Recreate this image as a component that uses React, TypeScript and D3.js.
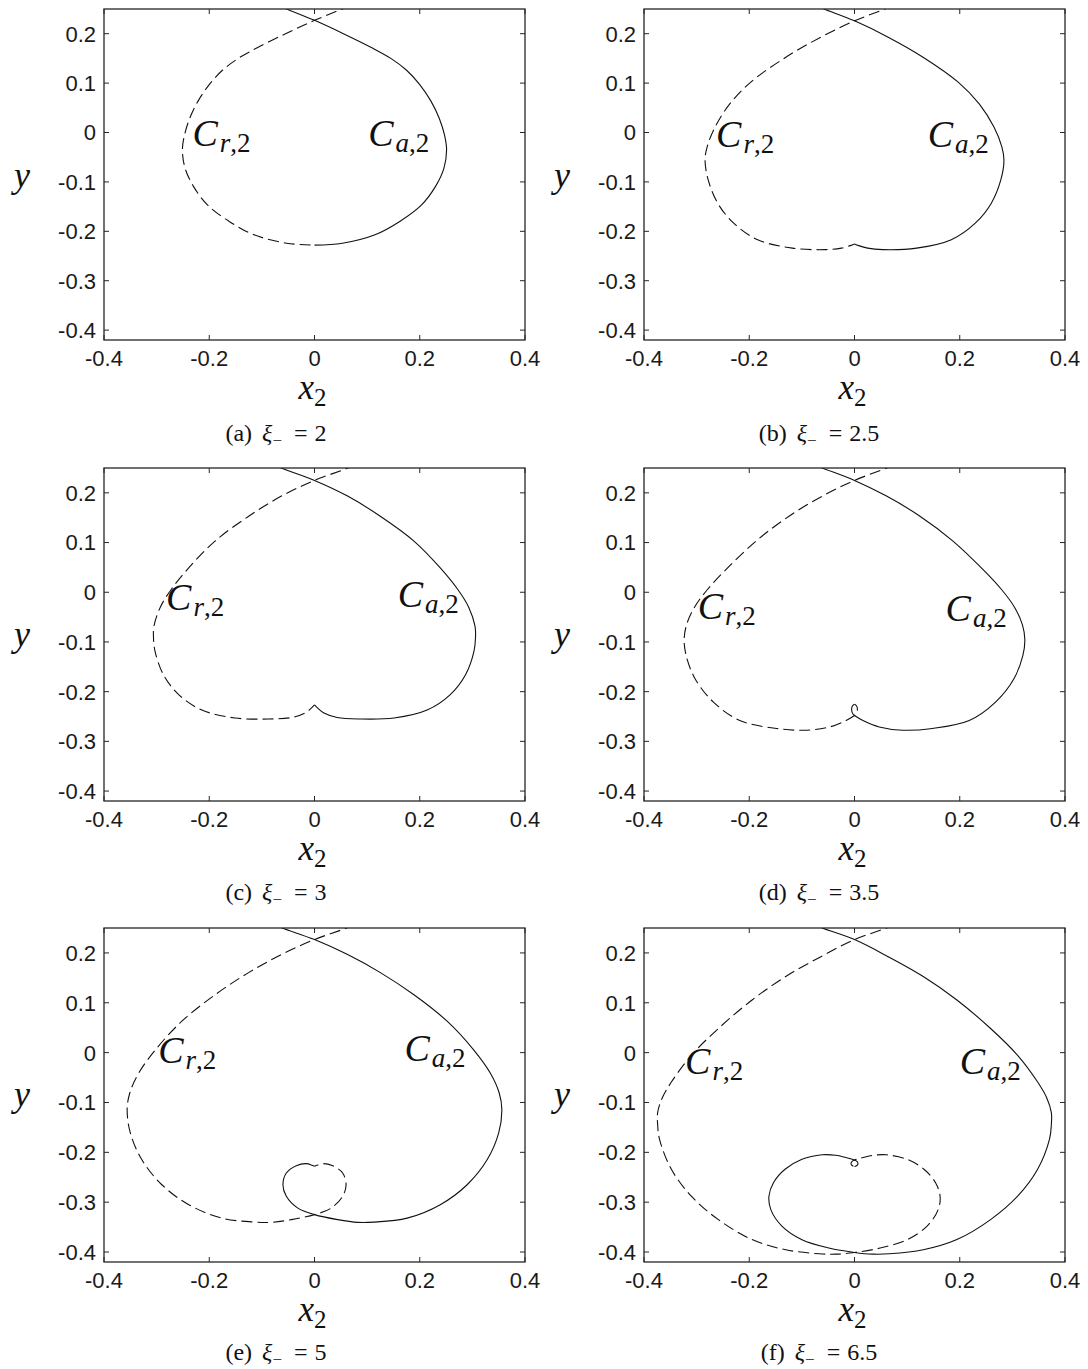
import React from "react";
import * as d3 from "d3";

// Axis settings shared by all six panels
const xTicks = [-0.4, -0.2, 0, 0.2, 0.4];
const yTicks = [0.2, 0.1, 0, -0.1, -0.2, -0.3, -0.4];
const xDomain = [-0.4, 0.4];
const yDomain = [-0.42, 0.25];

const panelTags = ["a", "b", "c", "d", "e", "f"];
const xiValues = ["2", "2.5", "3", "3.5", "5", "6.5"];

// Attracting slow manifold C_{a,2}: [x2, y]
const attractA = [[-0.07, 0.257], [-0.053, 0.25], [0, 0.227], [0.053, 0.201], [0.108, 0.172], [0.145, 0.15], [0.175, 0.126], [0.2, 0.097], [0.221, 0.064], [0.237, 0.029], [0.247, -0.005], [0.251, -0.035], [0.246, -0.072], [0.23, -0.109], [0.203, -0.147], [0.162, -0.18], [0.115, -0.207], [0.053, -0.224], [0, -0.228]];
const attractB = [[-0.075, 0.258], [-0.058, 0.25], [0, 0.226], [0.064, 0.193], [0.131, 0.152], [0.197, 0.102], [0.237, 0.058], [0.265, 0.011], [0.28, -0.029], [0.284, -0.056], [0.278, -0.096], [0.26, -0.143], [0.23, -0.183], [0.184, -0.217], [0.118, -0.234], [0.054, -0.237], [0.025, -0.234], [0.008, -0.229], [0, -0.2255]];
const attractC = [[-0.078, 0.257], [-0.061, 0.249], [0, 0.225], [0.062, 0.194], [0.125, 0.153], [0.189, 0.103], [0.239, 0.049], [0.272, 0.006], [0.293, -0.03], [0.305, -0.068], [0.306, -0.09], [0.303, -0.119], [0.287, -0.166], [0.258, -0.206], [0.214, -0.237], [0.151, -0.253], [0.087, -0.255], [0.043, -0.252], [0.018, -0.243], [0.006, -0.233], [0, -0.2265]];
const attractD = [[-0.077, 0.257], [-0.06, 0.2495], [0, 0.225], [0.06, 0.194], [0.123, 0.154], [0.186, 0.104], [0.243, 0.047], [0.279, 0.006], [0.304, -0.03], [0.319, -0.065], [0.3237, -0.095], [0.32, -0.127], [0.303, -0.174], [0.268, -0.221], [0.218, -0.258], [0.148, -0.274], [0.0915, -0.2776], [0.047, -0.271], [0.016, -0.258], [0.003, -0.25], [-0.003, -0.245], [-0.0055, -0.236], [-0.004, -0.229], [0, -0.2255]];
const attractE = [[-0.077, 0.257], [-0.06, 0.2495], [0, 0.2268], [0.063, 0.1967], [0.126, 0.16], [0.189, 0.116], [0.252, 0.063], [0.302, 0.006], [0.334, -0.041], [0.351, -0.081], [0.356, -0.114], [0.35, -0.161], [0.328, -0.215], [0.29, -0.265], [0.239, -0.305], [0.176, -0.332], [0.113, -0.34], [0.082, -0.3405], [0.044, -0.335], [0, -0.325], [-0.0315, -0.312], [-0.0535, -0.288], [-0.06, -0.265], [-0.0535, -0.2415], [-0.0346, -0.2268], [-0.0157, -0.2227], [-0.0044, -0.226], [0, -0.228]];
const attractF = [[-0.078, 0.258], [-0.0614, 0.2502], [0, 0.2267], [0.063, 0.193], [0.1306, 0.1527], [0.1946, 0.1056], [0.2586, 0.0484], [0.31, -0.0054], [0.348, -0.059], [0.365, -0.09], [0.374, -0.12], [0.374, -0.145], [0.3706, -0.1735], [0.348, -0.234], [0.31, -0.288], [0.2586, -0.335], [0.1946, -0.375], [0.1306, -0.3955], [0.0666, -0.4036], [0.0346, -0.4043], [0, -0.4009], [-0.0486, -0.392], [-0.0998, -0.3753], [-0.138, -0.348], [-0.159, -0.315], [-0.1626, -0.288], [-0.154, -0.261], [-0.132, -0.234], [-0.0998, -0.214], [-0.0614, -0.205], [-0.0358, -0.206], [-0.0166, -0.2105], [-0.006, -0.2135], [0, -0.2155], [0.005, -0.2185], [0.0065, -0.2235], [0.003, -0.2275], [0, -0.2285]];

// Repelling slow manifold C_{r,2}: [x2, y]
const repelA = [[0.07, 0.257], [0.053, 0.25], [0, 0.227], [-0.053, 0.201], [-0.108, 0.172], [-0.145, 0.15], [-0.175, 0.126], [-0.2, 0.097], [-0.221, 0.064], [-0.237, 0.029], [-0.247, -0.005], [-0.251, -0.035], [-0.246, -0.072], [-0.23, -0.109], [-0.203, -0.147], [-0.162, -0.18], [-0.115, -0.207], [-0.053, -0.224], [0, -0.228]];
const repelB = [[0.075, 0.258], [0.058, 0.25], [0, 0.226], [-0.064, 0.193], [-0.131, 0.152], [-0.197, 0.102], [-0.237, 0.058], [-0.265, 0.011], [-0.28, -0.029], [-0.284, -0.056], [-0.278, -0.096], [-0.26, -0.143], [-0.23, -0.183], [-0.184, -0.217], [-0.118, -0.234], [-0.054, -0.237], [-0.025, -0.234], [-0.008, -0.229], [0, -0.2255]];
const repelC = [[0.078, 0.257], [0.061, 0.249], [0, 0.225], [-0.062, 0.194], [-0.125, 0.153], [-0.189, 0.103], [-0.239, 0.049], [-0.272, 0.006], [-0.293, -0.03], [-0.305, -0.068], [-0.306, -0.09], [-0.303, -0.119], [-0.287, -0.166], [-0.258, -0.206], [-0.214, -0.237], [-0.151, -0.253], [-0.087, -0.255], [-0.043, -0.252], [-0.018, -0.243], [-0.006, -0.233], [0, -0.2265]];
const repelD = [[0.077, 0.257], [0.06, 0.2495], [0, 0.225], [-0.06, 0.194], [-0.123, 0.154], [-0.186, 0.104], [-0.243, 0.047], [-0.279, 0.006], [-0.304, -0.03], [-0.319, -0.065], [-0.3237, -0.095], [-0.32, -0.127], [-0.303, -0.174], [-0.268, -0.221], [-0.218, -0.258], [-0.148, -0.274], [-0.0915, -0.2776], [-0.047, -0.271], [-0.016, -0.258], [-0.003, -0.25], [0.003, -0.245], [0.0055, -0.236], [0.004, -0.229], [0, -0.2255]];
const repelE = [[0.077, 0.257], [0.06, 0.2495], [0, 0.2268], [-0.063, 0.1967], [-0.126, 0.16], [-0.189, 0.116], [-0.252, 0.063], [-0.302, 0.006], [-0.334, -0.041], [-0.351, -0.081], [-0.356, -0.114], [-0.35, -0.161], [-0.328, -0.215], [-0.29, -0.265], [-0.239, -0.305], [-0.176, -0.332], [-0.113, -0.34], [-0.082, -0.3405], [-0.044, -0.335], [0, -0.325], [0.0315, -0.312], [0.0535, -0.288], [0.06, -0.265], [0.0535, -0.2415], [0.0346, -0.2268], [0.0157, -0.2227], [0.0044, -0.226], [0, -0.228]];
const repelF = [[0.078, 0.258], [0.0614, 0.2502], [0, 0.2267], [-0.063, 0.193], [-0.1306, 0.1527], [-0.1946, 0.1056], [-0.2586, 0.0484], [-0.31, -0.0054], [-0.348, -0.059], [-0.365, -0.09], [-0.374, -0.12], [-0.374, -0.145], [-0.3706, -0.1735], [-0.348, -0.234], [-0.31, -0.288], [-0.2586, -0.335], [-0.1946, -0.375], [-0.1306, -0.3955], [-0.0666, -0.4036], [-0.0346, -0.4043], [0, -0.4009], [0.0486, -0.392], [0.0998, -0.3753], [0.138, -0.348], [0.159, -0.315], [0.1626, -0.288], [0.154, -0.261], [0.132, -0.234], [0.0998, -0.214], [0.0614, -0.205], [0.0358, -0.206], [0.0166, -0.2105], [0.006, -0.2135], [0, -0.2155], [-0.005, -0.2185], [-0.0065, -0.2235], [-0.003, -0.2275], [0, -0.2285]];

// Label anchors (data coordinates, text baseline start)
const labelRepel = [[-0.232, -0.028], [-0.263, -0.029], [-0.282, -0.035], [-0.298, -0.0535], [-0.297, -0.021], [-0.322, -0.042]];
const labelAttract = [[0.102, -0.028], [0.139, -0.029], [0.158, -0.03], [0.173, -0.057], [0.171, -0.017], [0.2, -0.042]];

const attractBranches = [attractA, attractB, attractC, attractD, attractE, attractF];
const repelBranches = [repelA, repelB, repelC, repelD, repelE, repelF];

// Figure layout
const WIDTH = 1088;
const HEIGHT = 1369;
const colLeft = [104, 644];
const colCaptionX = [276, 819];
const plotW = 421;
const rowTop = [9, 468, 928];
const rowHeight = [331, 333, 334];

const SANS = "'Liberation Sans', Arial, Helvetica, sans-serif";
const SERIF = "'Liberation Serif', 'Times New Roman', serif";
const AXIS = "#262626";
const INK = "#111";

function fmt(v: number) {
  if (v === 0) return "0";
  return String(v);
}

function Panel({ idx }: { idx: number }) {
  const col = idx % 2;
  const row = Math.floor(idx / 2);
  const left = colLeft[col];
  const top = rowTop[row];
  const h = rowHeight[row];
  const x = d3.scaleLinear().domain(xDomain).range([left, left + plotW]);
  const y = d3.scaleLinear().domain(yDomain).range([top + h, top]);
  const line = d3
    .line<number[]>()
    .x((d) => x(d[0]))
    .y((d) => y(d[1]))
    .curve(d3.curveCatmullRom.alpha(0.5));
  const clipId = `clip-${panelTags[idx]}`;
  const tick = 5;
  const [rx, ry] = labelRepel[idx];
  const [ax, ay] = labelAttract[idx];
  const bottom = top + h;
  const right = left + plotW;

  return (
    <g>
      <defs>
        <clipPath id={clipId}>
          <rect x={left} y={top} width={plotW} height={h} />
        </clipPath>
      </defs>
      <g clipPath={`url(#${clipId})`} fill="none" stroke={INK} strokeWidth={1.1}>
        <path d={line(attractBranches[idx]) || ""} />
        <path d={line(repelBranches[idx]) || ""} strokeDasharray="11,5" />
      </g>
      {/* ticks on all four sides, pointing inward */}
      <g stroke={AXIS} strokeWidth={1}>
        {xTicks.map((t) => (
          <g key={`xt${t}`}>
            <line x1={x(t)} x2={x(t)} y1={bottom} y2={bottom - tick} />
            <line x1={x(t)} x2={x(t)} y1={top} y2={top + tick} />
          </g>
        ))}
        {yTicks.map((t) => (
          <g key={`yt${t}`}>
            <line x1={left} x2={left + tick} y1={y(t)} y2={y(t)} />
            <line x1={right} x2={right - tick} y1={y(t)} y2={y(t)} />
          </g>
        ))}
      </g>
      <rect x={left} y={top} width={plotW} height={h} fill="none" stroke={AXIS} strokeWidth={1.3} />
      {/* tick labels */}
      <g fontFamily={SANS} fontSize={22} fill="#1a1a1a">
        {xTicks.map((t) => (
          <text key={`xl${t}`} x={x(t)} y={bottom + 26} textAnchor="middle">
            {fmt(t)}
          </text>
        ))}
        {yTicks.map((t) => (
          <text key={`yl${t}`} x={left - 8} y={y(t)} dy="0.36em" textAnchor="end">
            {fmt(t)}
          </text>
        ))}
      </g>
      {/* axis labels */}
      <text x={(left + right) / 2 - 16} y={bottom + 59} fontFamily={SERIF} fontSize={35} fill={INK}>
        <tspan fontStyle="italic">x</tspan>
        <tspan fontSize={25} dy={7}>2</tspan>
      </text>
      <text x={left - 82} y={top + 178} fontFamily={SERIF} fontStyle="italic" fontSize={36} fill={INK} textAnchor="middle">
        y
      </text>
      {/* branch labels */}
      <text x={x(rx)} y={y(ry)} fontFamily={SERIF} fontSize={38} fill={INK}>
        <tspan fontStyle="italic">C</tspan>
        <tspan fontSize={27} dy={6} dx={2} fontStyle="italic">r</tspan>
        <tspan fontSize={27}>,2</tspan>
      </text>
      <text x={x(ax)} y={y(ay)} fontFamily={SERIF} fontSize={38} fill={INK}>
        <tspan fontStyle="italic">C</tspan>
        <tspan fontSize={27} dy={6} dx={2} fontStyle="italic">a</tspan>
        <tspan fontSize={27}>,2</tspan>
      </text>
      {/* caption */}
      <text x={colCaptionX[col]} y={top + 432} fontFamily={SERIF} fontSize={24} fill={INK} textAnchor="middle">
        <tspan>({panelTags[idx]})</tspan>
        <tspan dx={10} fontStyle="italic">ξ</tspan>
        <tspan fontSize={17} dy={5}>−</tspan>
        <tspan dx={12} dy={-5}>=</tspan>
        <tspan dx={7}>{xiValues[idx]}</tspan>
      </text>
    </g>
  );
}

export default function App() {
  return (
    <svg
      width={WIDTH}
      height={HEIGHT}
      viewBox={`0 0 ${WIDTH} ${HEIGHT}`}
      style={{ display: "block", position: "absolute", left: 0, top: 0, background: "#fff" }}
    >
      {panelTags.map((_, i) => (
        <Panel key={i} idx={i} />
      ))}
    </svg>
  );
}
